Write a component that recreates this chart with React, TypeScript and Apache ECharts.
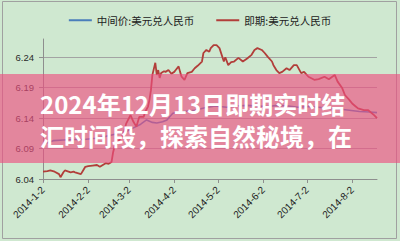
import React, { useEffect, useRef } from 'react';
import * as echarts from 'echarts';

// USD/CNY central parity (中间价)
const parityDates = [
  '2014-01-02', '2014-01-09', '2014-01-16', '2014-01-23', '2014-01-30', '2014-02-07',
  '2014-02-14', '2014-02-21', '2014-02-28', '2014-03-05', '2014-03-10', '2014-03-14',
  '2014-03-18', '2014-03-21', '2014-03-25', '2014-03-28', '2014-04-01', '2014-04-09',
  '2014-04-16', '2014-04-23', '2014-04-30', '2014-05-08', '2014-05-15', '2014-05-22',
  '2014-05-29', '2014-06-05', '2014-06-12', '2014-06-19', '2014-06-26', '2014-07-03',
  '2014-07-10', '2014-07-17', '2014-07-24', '2014-07-31', '2014-08-07', '2014-08-14',
  '2014-08-19',
];
const parityValues = [
  6.097, 6.103, 6.104, 6.105, 6.105, 6.107,
  6.110, 6.114, 6.118, 6.124, 6.130, 6.137,
  6.133, 6.132, 6.134, 6.137, 6.148, 6.151,
  6.153, 6.157, 6.160, 6.158, 6.160, 6.161,
  6.160, 6.159, 6.161, 6.160, 6.158, 6.159,
  6.158, 6.156, 6.155, 6.153, 6.151, 6.150,
  6.149,
];

// USD/CNY spot rate (即期)
const spotDates = [
  '2014-01-02', '2014-01-05', '2014-01-07', '2014-01-10', '2014-01-13', '2014-01-14',
  '2014-01-16', '2014-01-17', '2014-01-21', '2014-01-23', '2014-01-24', '2014-01-28',
  '2014-01-30', '2014-01-31', '2014-02-02', '2014-02-05', '2014-02-08', '2014-02-10',
  '2014-02-12', '2014-02-14', '2014-02-16', '2014-02-18', '2014-02-19', '2014-02-20',
  '2014-02-22', '2014-02-24', '2014-02-26', '2014-02-28', '2014-03-03', '2014-03-05',
  '2014-03-07', '2014-03-09', '2014-03-12', '2014-03-13', '2014-03-15', '2014-03-16',
  '2014-03-17', '2014-03-18', '2014-03-20', '2014-03-21', '2014-03-22', '2014-03-23',
  '2014-03-24', '2014-03-26', '2014-03-27', '2014-03-29', '2014-03-31', '2014-04-02',
  '2014-04-03', '2014-04-05', '2014-04-06', '2014-04-07', '2014-04-09', '2014-04-11',
  '2014-04-14', '2014-04-16', '2014-04-18', '2014-04-21', '2014-04-22', '2014-04-24',
  '2014-04-26', '2014-04-27', '2014-04-29', '2014-05-01', '2014-05-03', '2014-05-06',
  '2014-05-07', '2014-05-09', '2014-05-11', '2014-05-13', '2014-05-16', '2014-05-19',
  '2014-05-22', '2014-05-25', '2014-05-27', '2014-05-29', '2014-06-01', '2014-06-03',
  '2014-06-05', '2014-06-08', '2014-06-09', '2014-06-11', '2014-06-13', '2014-06-15',
  '2014-06-18', '2014-06-20', '2014-06-23', '2014-06-25', '2014-06-28', '2014-06-30',
  '2014-07-03', '2014-07-07', '2014-07-10', '2014-07-14', '2014-07-17', '2014-07-21',
  '2014-07-23', '2014-07-26', '2014-07-28', '2014-07-31', '2014-08-02', '2014-08-04',
  '2014-08-06', '2014-08-10', '2014-08-13', '2014-08-17', '2014-08-19',
];
const spotValues = [
  6.052, 6.053, 6.054, 6.052, 6.048, 6.043,
  6.051, 6.054, 6.051, 6.052, 6.051, 6.048,
  6.056, 6.060, 6.061, 6.062, 6.063, 6.060,
  6.063, 6.066, 6.065, 6.068, 6.083, 6.093,
  6.099, 6.107, 6.112, 6.131, 6.145, 6.134,
  6.126, 6.142, 6.142, 6.150, 6.159, 6.170,
  6.186, 6.211, 6.231, 6.211, 6.219, 6.206,
  6.214, 6.217, 6.216, 6.219, 6.213, 6.216,
  6.219, 6.225, 6.216, 6.208, 6.203, 6.214,
  6.216, 6.222, 6.226, 6.233, 6.247, 6.252,
  6.249, 6.255, 6.260, 6.260, 6.255, 6.233,
  6.240, 6.227, 6.232, 6.233, 6.239, 6.233,
  6.238, 6.244, 6.252, 6.255, 6.252, 6.247,
  6.241, 6.233, 6.227, 6.219, 6.214, 6.216,
  6.222, 6.219, 6.227, 6.227, 6.214, 6.216,
  6.208, 6.203, 6.204, 6.208, 6.204, 6.211,
  6.200, 6.190, 6.178, 6.170, 6.164, 6.160,
  6.156, 6.153, 6.153, 6.145, 6.140,
];

const xTickDates = [
  '2014-01-02', '2014-02-02', '2014-03-02', '2014-04-02',
  '2014-05-02', '2014-06-02', '2014-07-02', '2014-08-02',
];
const xRange = ['2014-01-02', '2014-08-19'];
const yTicks = [6.04, 6.09, 6.14, 6.19, 6.24];
const yRange = [6.04, 6.27];

const seriesNames = ['中间价:美元兑人民币', '即期:美元兑人民币'];
const seriesColors = ['#4a7ebb', '#b23e3a'];
const headlineLines = ['2024年12月13日即期实时结', '汇时间段，探索自然秘境，在'];

const toTime = (s: string) => {
  const [y, m, d] = s.split('-').map(Number);
  return Date.UTC(y, m - 1, d);
};
const formatDate = (t: number) => {
  const d = new Date(t);
  return `${d.getUTCFullYear()}-${d.getUTCMonth() + 1}-${d.getUTCDate()}`;
};
const pairs = (dates: string[], values: number[]) =>
  dates.map((d, i) => [toTime(d), values[i]]);

const axisFont = 'Liberation Sans, Arial, sans-serif';
const cjkFont = '"Noto Sans CJK SC", sans-serif';

export default function App() {
  const ref = useRef<HTMLDivElement>(null);

  useEffect(() => {
    document.body.style.margin = '0';
    if (!ref.current) return;
    const chart = echarts.init(ref.current, undefined, { renderer: 'svg' });
    const xTicks = xTickDates.map(toTime);

    chart.setOption({
      animation: false,
      backgroundColor: '#cfe8d0',
      legend: {
        top: 10,
        left: 'center',
        icon: 'rect',
        itemWidth: 23,
        itemHeight: 2,
        itemGap: 22,
        textStyle: { fontSize: 10.5, color: '#222', fontFamily: cjkFont },
        data: seriesNames,
      },
      grid: { left: 43, right: 23, top: 39, bottom: 62 },
      xAxis: {
        type: 'value',
        min: toTime(xRange[0]),
        max: toTime(xRange[1]),
        axisLine: { show: true, lineStyle: { color: '#8e8e8e', width: 1 } },
        axisTick: { show: true, customValues: xTicks, length: 4, lineStyle: { color: '#8e8e8e' } },
        axisLabel: {
          customValues: xTicks,
          rotate: 45,
          margin: 9,
          fontSize: 10,
          color: '#1e1e1e',
          fontFamily: axisFont,
          formatter: (v: number) => formatDate(v),
        },
        splitLine: { show: false },
      },
      yAxis: {
        type: 'value',
        min: yRange[0],
        max: yRange[1],
        axisLine: { show: true, lineStyle: { color: '#8e8e8e', width: 1 } },
        axisTick: { show: true, customValues: yTicks, length: 4, lineStyle: { color: '#8e8e8e' } },
        axisLabel: {
          customValues: yTicks,
          margin: 9,
          fontSize: 9.5,
          color: '#2a2a2a',
          fontFamily: axisFont,
          formatter: (v: number) => v.toFixed(2),
        },
        splitLine: { show: true, lineStyle: { color: '#a3a3a3', width: 1 } },
      },
      series: [
        {
          name: seriesNames[0],
          type: 'line',
          data: pairs(parityDates, parityValues),
          symbol: 'none',
          clip: false,
          lineStyle: { color: seriesColors[0], width: 1.6 },
          itemStyle: { color: seriesColors[0] },
          z: 3,
        },
        {
          name: seriesNames[1],
          type: 'line',
          data: pairs(spotDates, spotValues),
          symbol: 'none',
          clip: false,
          lineStyle: { color: seriesColors[1], width: 1.8 },
          itemStyle: { color: seriesColors[1] },
          z: 4,
        },
      ],
      graphic: [
        {
          type: 'rect',
          silent: true,
          z: 50,
          shape: { x: 2.5, y: 1.5, width: 394, height: 237 },
          style: { fill: 'none', stroke: '#a0a0a0', lineWidth: 1 },
        },
        {
          type: 'rect',
          silent: true,
          z: 100,
          shape: { x: 0, y: 74, width: 400, height: 89 },
          style: { fill: 'rgba(238,78,128,0.64)' },
        },
        ...headlineLines.map((line, i) => ({
          type: 'text',
          silent: true,
          z: 101,
          x: 40,
          y: 103 + i * 32,
          style: {
            text: line,
            fill: '#ffffff',
            fontSize: 24,
            fontWeight: 'bold',
            fontFamily: cjkFont,
            verticalAlign: 'middle',
          },
        })),
      ],
    });

    return () => chart.dispose();
  }, []);

  return <div ref={ref} style={{ width: 400, height: 241 }} />;
}
